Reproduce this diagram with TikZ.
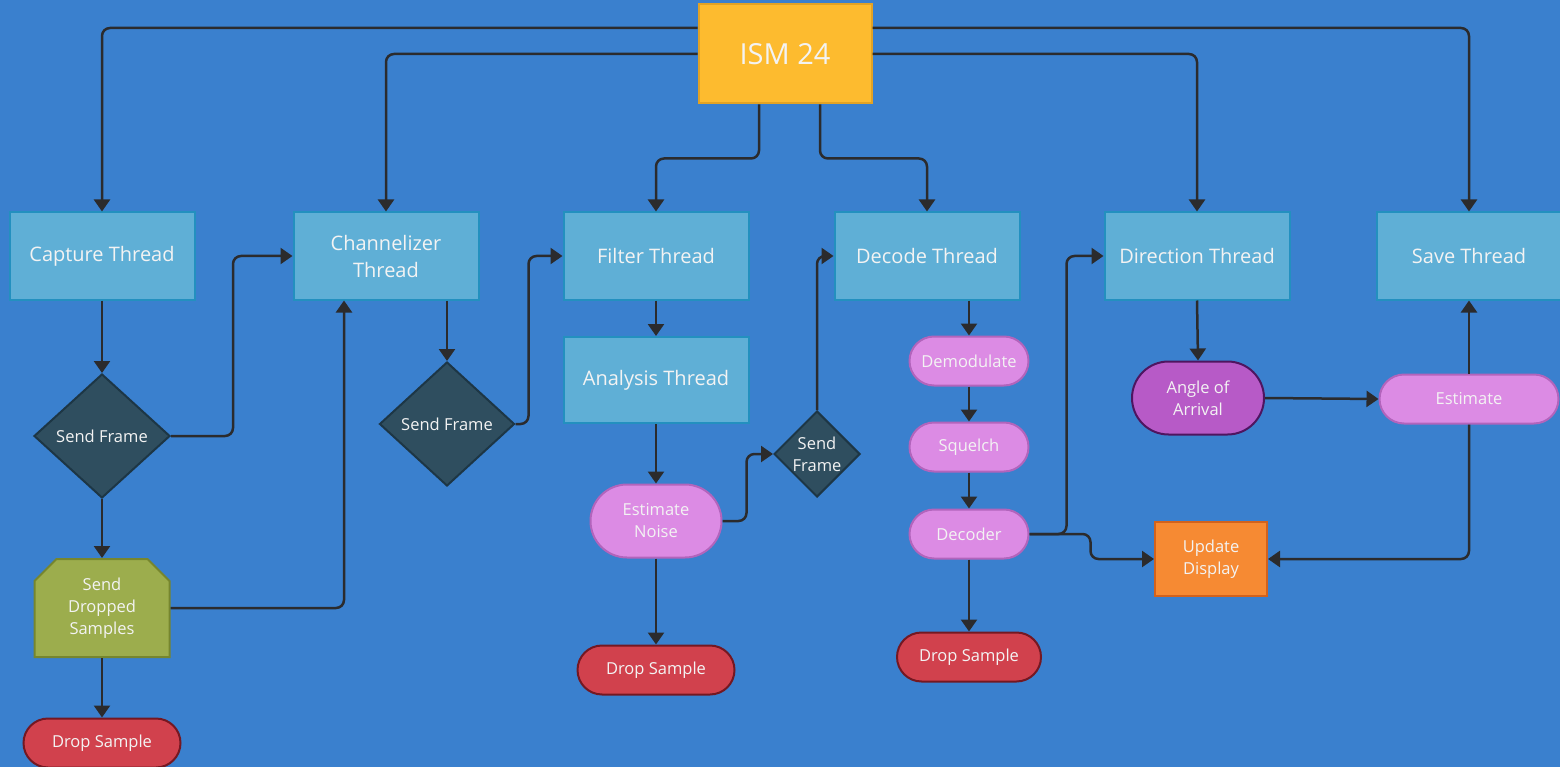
\documentclass[tikz,border=0pt]{standalone}
\usepackage{fontspec}
\setmainfont{Open Sans}
\usetikzlibrary{arrows.meta,shapes.geometric,shapes.misc}

\definecolor{bgblue}{HTML}{3A80CE}
\definecolor{thrfill}{HTML}{5FAFD6}
\definecolor{thrline}{HTML}{2390BF}
\definecolor{ismfill}{HTML}{FDBB2F}
\definecolor{ismline}{HTML}{E2A224}
\definecolor{decfill}{HTML}{2F4E5F}
\definecolor{decline}{HTML}{1D3645}
\definecolor{olivefill}{HTML}{9CAD4D}
\definecolor{oliveline}{HTML}{76862E}
\definecolor{dropfill}{HTML}{D1414D}
\definecolor{dropline}{HTML}{741822}
\definecolor{pinkfill}{HTML}{DC8BE4}
\definecolor{pinkline}{HTML}{B264BC}
\definecolor{aoafill}{HTML}{B75AC7}
\definecolor{aoaline}{HTML}{4E1560}
\definecolor{updfill}{HTML}{F68A33}
\definecolor{updline}{HTML}{D2621C}
\definecolor{wire}{HTML}{2B2B2D}
\definecolor{labeltext}{HTML}{F3F3F3}

\tikzset{
  every node/.style={text=labeltext, align=center, inner sep=2pt},
  bigfont/.style={font=\fontsize{20}{27}\selectfont},
  smallfont/.style={font=\fontsize{16.5}{22}\selectfont},
  thread/.style={rectangle, draw=thrline, fill=thrfill, line width=2pt,
    minimum width=185pt, minimum height=87pt, bigfont},
  topbox/.style={rectangle, draw=ismline, fill=ismfill, line width=2pt,
    minimum width=173pt, minimum height=99pt, font=\fontsize{29}{34}\selectfont},
  decision/.style={diamond, draw=decline, fill=decfill, line width=2pt,
    inner sep=0pt, smallfont},
  dropsend/.style={chamfered rectangle, chamfered rectangle corners={north west,north east},
    chamfered rectangle xsep=11pt, chamfered rectangle ysep=11pt,
    draw=oliveline, fill=olivefill, line width=2pt,
    minimum width=135pt, minimum height=98pt, smallfont},
  dropbox/.style={rounded rectangle, draw=dropline, fill=dropfill, line width=2pt,
    minimum width=161pt, minimum height=49pt, smallfont},
  pinkstep/.style={rounded rectangle, draw=pinkline, fill=pinkfill, line width=2pt,
    minimum width=123pt, minimum height=49pt, smallfont},
  aoabox/.style={rounded rectangle, draw=aoaline, fill=aoafill, line width=2pt,
    minimum width=136pt, minimum height=73pt, smallfont},
  updbox/.style={rectangle, draw=updline, fill=updfill, line width=2pt,
    minimum width=112pt, minimum height=74pt, smallfont},
  wirearrow/.style={draw=wire, line width=2.5pt, rounded corners=8pt,
    -{Triangle[length=12pt,width=16pt]}},
}

\begin{document}
\begin{tikzpicture}[x=1pt,y=-1pt]
  % canvas
  \fill[bgblue] (0,0) rectangle (1560,767);
  \useasboundingbox (0,0) rectangle (1560,767);

  % root
  \node[topbox] (ism) at (785,54) {ISM 24};

  % thread row
  \node[thread] (cap)  at (102,256)  {Capture Thread};
  \node[thread] (chan) at (386,256)  {Channelizer\\Thread};
  \node[thread] (filt) at (656,256)  {Filter Thread};
  \node[thread] (dec)  at (927,256)  {Decode Thread};
  \node[thread] (dir)  at (1197,256) {Direction Thread};
  \node[thread] (save) at (1469,256) {Save Thread};

  % capture branch
  \node[decision, minimum width=136pt, minimum height=124pt] (sf1) at (102,436) {Send Frame};
  \node[dropsend] (sds) at (102,608) {Send\\Dropped\\Samples};
  \node[dropbox] (drop1) at (102,743) {Drop Sample};

  % channelizer branch
  \node[decision, minimum width=135pt, minimum height=124pt] (sf2) at (447,424) {Send Frame};

  % filter / analysis branch
  \node[thread, minimum height=86pt] (ana) at (656,380) {Analysis Thread};
  \node[pinkstep, minimum width=135pt, minimum height=73pt] (noise) at (656,521) {Estimate\\Noise};
  \node[decision, minimum width=86pt, minimum height=86pt] (sf3) at (817,454) {Send\\Frame};
  \node[dropbox] (drop2) at (656,670) {Drop Sample};

  % decode branch
  \node[pinkstep] (demod) at (969,361) {Demodulate};
  \node[pinkstep] (sq)    at (969,447) {Squelch};
  \node[pinkstep] (dcdr)  at (969,534) {Decoder};
  \node[dropbox, minimum width=148pt] (drop3) at (969,657) {Drop Sample};

  % direction / save branch
  \node[aoabox] (aoa) at (1198,398) {Angle of\\Arrival};
  \node[pinkstep, minimum width=183pt] (est) at (1469,399) {Estimate};
  \node[updbox] (upd) at (1211,559) {Update\\Display};

  % root to threads
  \draw[wirearrow] ([yshift=26pt]ism.west) -| (cap.north);
  \draw[wirearrow] (ism.west) -| (chan.north);
  \draw[wirearrow] ([xshift=-26pt]ism.south) -- ++(0,54) -| (filt.north);
  \draw[wirearrow] ([xshift=35pt]ism.south) -- ++(0,54) -| (dec.north);
  \draw[wirearrow] (ism.east) -| (dir.north);
  \draw[wirearrow] ([yshift=26pt]ism.east) -| (save.north);

  % capture flow
  \draw[wirearrow] (cap.south) -- (sf1.north);
  \draw[wirearrow] (sf1.east) -- ++(62,0) |- (chan.west);
  \draw[wirearrow] (sf1.south) -- (sds.north);
  \draw[wirearrow] (sds.east) -| ([xshift=-42pt]chan.south);
  \draw[wirearrow] (sds.south) -- (drop1.north);

  % channelizer flow
  \draw[wirearrow] ([xshift=61pt]chan.south) -- (sf2.north);
  \draw[wirearrow] (sf2.east) -- ++(13,0) |- (filt.west);

  % filter flow
  \draw[wirearrow] (filt.south) -- (ana.north);
  \draw[wirearrow] (ana.south) -- (noise.north);
  \draw[wirearrow] (noise.east) -- ++(24,0) |- (sf3.west);
  \draw[wirearrow] (sf3.north) |- (dec.west);
  \draw[wirearrow] (noise.south) -- (drop2.north);

  % decode flow
  \draw[wirearrow] ([xshift=42pt]dec.south) -- (demod.north);
  \draw[wirearrow] (demod.south) -- (sq.north);
  \draw[wirearrow] (sq.south) -- (dcdr.north);
  \draw[wirearrow] (dcdr.south) -- (drop3.north);
  \draw[wirearrow] (dcdr.east) -- ++(37,0) |- (dir.west);
  \draw[wirearrow] (dcdr.east) -- ++(61,0) |- (upd.west);

  % direction / save flow
  \draw[wirearrow] (dir.south) -- (aoa.north);
  \draw[wirearrow] (aoa.east) -- (est.west);
  \draw[wirearrow] (est.north) -- (save.south);
  \draw[wirearrow] (est.south) |- (upd.east);
\end{tikzpicture}
\end{document}
